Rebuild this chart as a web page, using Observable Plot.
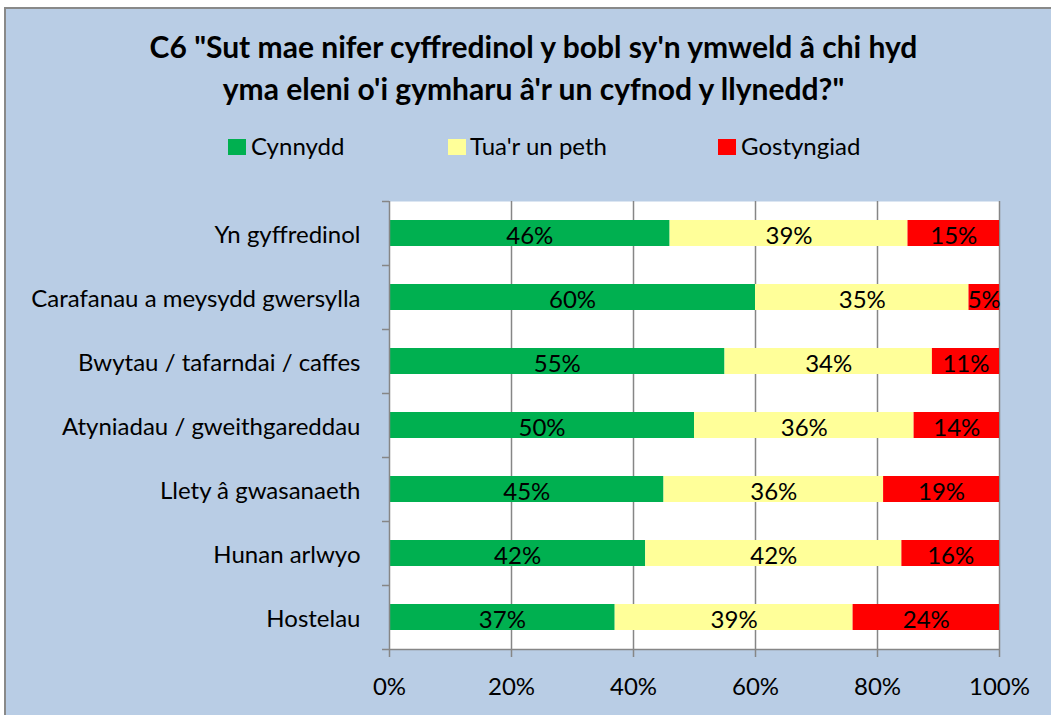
<!DOCTYPE html>
<html><head><meta charset="utf-8">
<script src="https://cdn.jsdelivr.net/npm/d3@7"></script>
<script src="https://cdn.jsdelivr.net/npm/@observablehq/plot@0.6"></script>
<style>
body{margin:0;background:#fff;}
#wrap{position:relative;width:1051px;height:715px;overflow:hidden;font-family:Lato,"Open Sans",sans-serif;color:#000;}
#bg{position:absolute;left:4px;top:7px;width:1100px;height:800px;background:#B9CDE5;border-left:2px solid #898989;border-top:2px solid #898989;}
#title{position:absolute;left:0;width:1067px;top:25px;text-align:center;font-weight:bold;font-size:30px;line-height:42px;white-space:nowrap;}
.lg{position:absolute;top:132px;font-size:24px;line-height:28px;white-space:nowrap;}
.sw{position:absolute;top:139px;width:18px;height:16px;}
#chart{position:absolute;left:0;top:0;}
#chart svg{background:transparent;}
</style></head>
<body>
<div id="wrap">
  <div id="bg"></div>
  <div id="title">C6 "Sut mae nifer cyffredinol y bobl sy'n ymweld â chi hyd<br>yma eleni o'i gymharu â'r un cyfnod y llynedd?"</div>
  <div id="legend"></div>
  <div id="chart"></div>
</div>
<script>
const categories = ["Yn gyffredinol","Carafanau a meysydd gwersylla","Bwytau / tafarndai / caffes","Atyniadau / gweithgareddau","Llety â gwasanaeth","Hunan arlwyo","Hostelau"];
const series = ["Cynnydd","Tua'r un peth","Gostyngiad"];
const cynnydd = [46,60,55,50,45,42,37];
const tuaRunPeth = [39,35,34,36,36,42,39];
const gostyngiad = [15,5,11,14,19,16,24];
const colors = ["#00B050","#FFFF99","#FF0000"];
const xTicks = [0,20,40,60,80,100];

const values = [cynnydd, tuaRunPeth, gostyngiad];
const data = [];
series.forEach((s, si) => categories.forEach((c, ci) => data.push({cat: c, series: s, value: values[si][ci]})));

// legend
const legendX = [[228,251],[448,470],[718,741]];
const lg = document.getElementById("legend");
series.forEach((s, i) => {
  const sw = document.createElement("div");
  sw.className = "sw"; sw.style.left = legendX[i][0] + "px"; sw.style.background = colors[i];
  lg.appendChild(sw);
  const t = document.createElement("div");
  t.className = "lg"; t.style.left = legendX[i][1] + "px"; t.textContent = s;
  lg.appendChild(t);
});

const W = 1051, H = 715, mL = 389, mR = 52, mT = 201, mB = 66;
const step = (H - mT - mB) / categories.length;
const grey = "#868686";

const chart = Plot.plot({
  width: W, height: H,
  marginLeft: mL, marginRight: mR, marginTop: mT, marginBottom: mB,
  style: {fontFamily: "Lato, 'Open Sans', sans-serif", fontSize: "24px", background: "transparent", color: "#000"},
  x: {domain: [0, 100]},
  y: {domain: categories, paddingInner: 0.59, paddingOuter: 0.295},
  color: {domain: series, range: colors},
  marks: [
    Plot.frame({fill: "white", stroke: null}),
    Plot.gridX(xTicks.slice(1), {stroke: grey, strokeOpacity: 1, strokeWidth: 1.5}),
    Plot.barX(data, {x: "value", y: "cat", fill: "series"}),
    Plot.text(data, Plot.stackX({x: "value", y: "cat", text: d => d.value + "%", fontSize: 24, fill: "#000", dy: 3})),
    Plot.ruleX([0], {stroke: grey, strokeWidth: 1.5}),
    Plot.ruleY(categories, {y: d => d, x1: 0, x2: 0, insetLeft: -7, dy: -step / 2, stroke: grey, strokeWidth: 1.5}),
    Plot.ruleY(categories.slice(-1), {y: d => d, x1: 0, x2: 100, insetLeft: -7, dy: step / 2, stroke: grey, strokeWidth: 1.5}),
    Plot.axisX({ticks: xTicks, tickSize: 8, tickPadding: 20, tickFormat: d => d + "%", fontSize: 24, label: null, stroke: grey, strokeWidth: 1.5, strokeOpacity: 1}),
    Plot.axisY({tickSize: 0, tickPadding: 29, fontSize: 24, dy: 2, label: null})
  ]
});
document.getElementById("chart").appendChild(chart);
</script>
</body></html>
